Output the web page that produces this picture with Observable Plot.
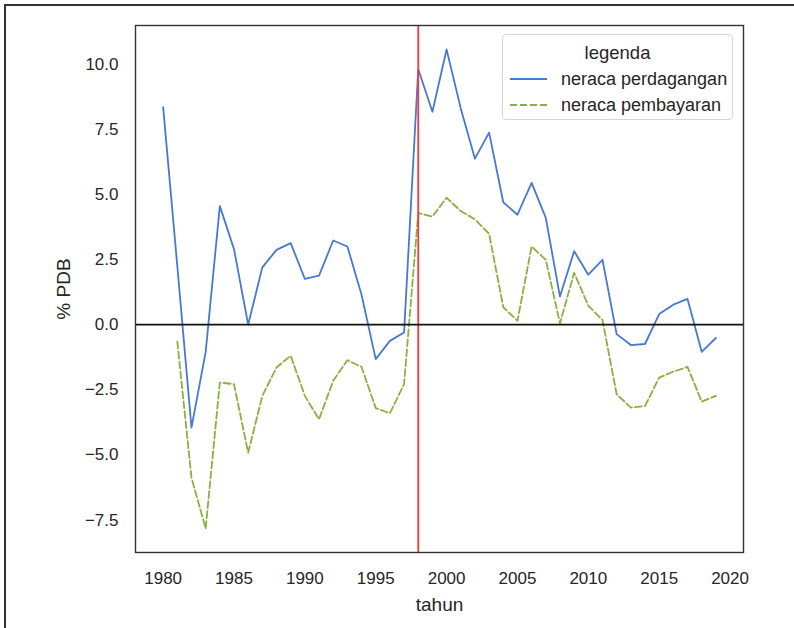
<!DOCTYPE html>
<html>
<head>
<meta charset="utf-8">
<script src="https://cdn.jsdelivr.net/npm/d3@7"></script>
<script src="https://cdn.jsdelivr.net/npm/@observablehq/plot@0.6"></script>
<style>
  html, body { margin: 0; padding: 0; background: #fff; }
  #wrap { position: relative; width: 794px; height: 628px; overflow: hidden; font-family: "Liberation Sans", Arial, sans-serif; }
  #outer { position: absolute; left: 4px; top: 4px; width: 900px; height: 700px; border-top: 2px solid #333; border-left: 2px solid #333; pointer-events: none; }
  #legend { position: absolute; left: 502px; top: 34px; width: 231px; height: 86px; border: 1px solid #d6d6d6; border-radius: 4px; background: rgba(255,255,255,0.85); color: #262626; font-size: 18px; box-sizing: border-box; }
  #legend .title { position: absolute; left: 0; width: 100%; top: 7px; text-align: center; font-size: 18.5px; }
  #legend .row { position: absolute; left: 7px; height: 22px; display: flex; align-items: center; }
  #legend .row span { margin-left: 14px; }
  g[aria-label="x-axis label"] text, g[aria-label="y-axis label"] text { font-size: 19px; }
</style>
</head>
<body>
<div id="wrap">
  <div id="chart"></div>
  <div id="outer"></div>
  <div id="legend">
    <div class="title">legenda</div>
    <div class="row" style="top:33px"><svg width="37" height="10"><line x1="0" x2="37" y1="5" y2="5" stroke="#4878d0" stroke-width="1.9"/></svg><span>neraca perdagangan</span></div>
    <div class="row" style="top:59px"><svg width="37" height="10"><line x1="0" x2="37" y1="5" y2="5" stroke="#8ab040" stroke-width="1.9" stroke-dasharray="7,3"/></svg><span>neraca pembayaran</span></div>
  </div>
</div>
<script>
const years = [1980,1981,1982,1983,1984,1985,1986,1987,1988,1989,1990,1991,1992,1993,1994,1995,1996,1997,1998,1999,2000,2001,2002,2003,2004,2005,2006,2007,2008,2009,2010,2011,2012,2013,2014,2015,2016,2017,2018,2019];
const neracaPerdagangan = [8.35, 2.25, -3.95, -1.05, 4.55, 2.9, 0.0, 2.2, 2.87, 3.13, 1.76, 1.88, 3.23, 3.0, 1.15, -1.32, -0.62, -0.3, 9.8, 8.17, 10.56, 8.3, 6.37, 7.37, 4.7, 4.22, 5.44, 4.1, 1.08, 2.82, 1.92, 2.49, -0.36, -0.78, -0.74, 0.41, 0.77, 0.99, -1.04, -0.51];
const neracaPembayaran = [null, -0.65, -5.87, -7.82, -2.22, -2.28, -4.91, -2.73, -1.64, -1.19, -2.73, -3.63, -2.15, -1.36, -1.62, -3.2, -3.4, -2.28, 4.28, 4.15, 4.87, 4.36, 4.04, 3.49, 0.67, 0.15, 3.0, 2.49, 0.05, 1.99, 0.73, 0.18, -2.67, -3.18, -3.12, -2.03, -1.8, -1.62, -2.95, -2.73];
const xTicks = [1980,1985,1990,1995,2000,2005,2010,2015,2020];
const yTicks = [-7.5,-5.0,-2.5,0.0,2.5,5.0,7.5,10.0];
const krisisTahun = [1998];
const garisNol = [0];

const trade = years.map((t, i) => ({tahun: t, nilai: neracaPerdagangan[i]}));
const bop = years.map((t, i) => ({tahun: t, nilai: neracaPembayaran[i]})).filter(d => d.nilai != null);

const chart = Plot.plot({
  width: 794,
  height: 628,
  marginLeft: 135,
  marginRight: 51,
  marginTop: 25,
  marginBottom: 76,
  style: {fontFamily: '"Liberation Sans", Arial, sans-serif', color: "#262626", background: "transparent", overflow: "visible"},
  x: {domain: [1978.05, 2020.95]},
  y: {domain: [-8.74, 11.48]},
  marks: [
    Plot.line(trade, {x: "tahun", y: "nilai", stroke: "#4878d0", strokeWidth: 1.8}),
    Plot.line(bop, {x: "tahun", y: "nilai", stroke: "#8ab040", strokeWidth: 1.8, strokeDasharray: "7,3"}),
    Plot.ruleX(krisisTahun, {stroke: "#f03c3c", strokeWidth: 1.8}),
    Plot.ruleY(garisNol, {stroke: "#111", strokeWidth: 1.7}),
    Plot.frame({stroke: "#333", strokeWidth: 1.4}),
    Plot.axisX({ticks: xTicks, tickFormat: "d", tickSize: 0, tickPadding: 19, fontSize: 17, label: "tahun", labelAnchor: "center", labelOffset: 58, labelArrow: false}),
    Plot.axisY({ticks: yTicks, tickFormat: ".1f", tickSize: 0, tickPadding: 17, fontSize: 17, label: "% PDB", labelAnchor: "center", labelOffset: 79, labelArrow: false})
  ]
});
document.getElementById("chart").appendChild(chart);
</script>
</body>
</html>
